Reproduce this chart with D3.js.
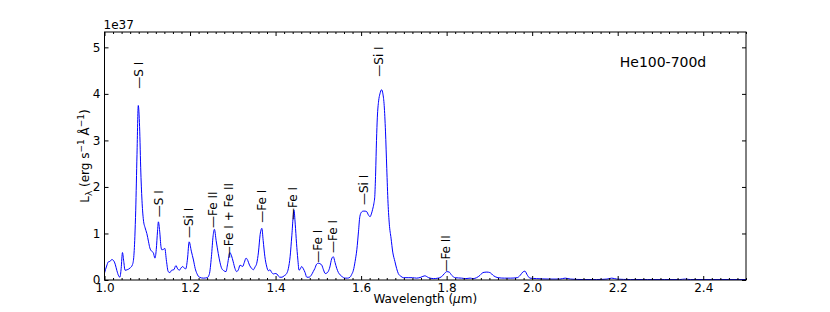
<!DOCTYPE html>
<html>
<head>
<meta charset="utf-8">
<script src="https://cdn.jsdelivr.net/npm/d3@7"></script>
<style>
  body { margin: 0; background: #fff; }
  svg { font-family: "DejaVu Sans", sans-serif; }
  .tick text { font-size: 12px; fill: #000; }
  .tick line { stroke: #000; }
</style>
</head>
<body>
<svg id="chart" width="830" height="312"></svg>
<script>
// spectrum (wavelength in micron, L in units of 1e37)
const wavelength = [
  1.000, 1.005, 1.009, 1.013, 1.017, 1.021, 1.025, 1.029, 1.033, 1.036, 1.039, 1.042, 1.045, 1.048, 1.053, 1.060,
  1.065, 1.068, 1.071, 1.073, 1.076, 1.079, 1.082, 1.085, 1.088, 1.091, 1.095, 1.099, 1.103, 1.106, 1.110, 1.114,
  1.118, 1.121, 1.124, 1.126, 1.129, 1.132, 1.134, 1.138, 1.141, 1.145, 1.149, 1.153, 1.157, 1.162, 1.167, 1.171,
  1.175, 1.179, 1.183, 1.187, 1.190, 1.194, 1.198, 1.203, 1.208, 1.212, 1.216, 1.222, 1.231, 1.240, 1.245, 1.250,
  1.254, 1.257, 1.261, 1.266, 1.270, 1.274, 1.279, 1.284, 1.288, 1.293, 1.297, 1.301, 1.305, 1.309, 1.313, 1.317,
  1.323, 1.327, 1.331, 1.335, 1.339, 1.344, 1.348, 1.352, 1.356, 1.360, 1.364, 1.368, 1.371, 1.375, 1.379, 1.383,
  1.387, 1.391, 1.395, 1.399, 1.403, 1.407, 1.410, 1.415, 1.420, 1.426, 1.430, 1.434, 1.438, 1.443, 1.446, 1.449,
  1.452, 1.455, 1.458, 1.461, 1.465, 1.469, 1.473, 1.478, 1.484, 1.488, 1.492, 1.496, 1.500, 1.504, 1.508, 1.512,
  1.516, 1.520, 1.523, 1.527, 1.531, 1.535, 1.539, 1.543, 1.547, 1.551, 1.556, 1.562, 1.568, 1.574, 1.578, 1.582,
  1.586, 1.590, 1.594, 1.597, 1.601, 1.605, 1.609, 1.613, 1.617, 1.621, 1.624, 1.627, 1.630, 1.632, 1.634, 1.636,
  1.638, 1.641, 1.644, 1.648, 1.651, 1.654, 1.657, 1.660, 1.663, 1.666, 1.670, 1.674, 1.679, 1.683, 1.687, 1.693,
  1.699, 1.710, 1.720, 1.730, 1.740, 1.749, 1.758, 1.769, 1.780, 1.788, 1.795, 1.800, 1.806, 1.812, 1.820, 1.835,
  1.845, 1.855, 1.862, 1.870, 1.878, 1.885, 1.894, 1.901, 1.910, 1.920, 1.935, 1.950, 1.965, 1.972, 1.978, 1.983,
  1.989, 1.995, 2.010, 2.040, 2.065, 2.077, 2.090, 2.120, 2.150, 2.175, 2.186, 2.198, 2.230, 2.270, 2.310, 2.345,
  2.357, 2.370, 2.420, 2.460, 2.500
]
const luminosity = [
  0.15, 0.30, 0.39, 0.40, 0.44, 0.42, 0.34, 0.20, 0.09, 0.06, 0.25, 0.59, 0.40, 0.21, 0.22, 0.26,
  0.32, 0.45, 0.93, 1.50, 2.70, 3.75, 3.30, 2.30, 1.65, 1.29, 1.12, 1.00, 0.82, 0.69, 0.62, 0.59,
  0.47, 0.65, 1.05, 1.25, 1.05, 0.72, 0.65, 0.66, 0.68, 0.40, 0.18, 0.16, 0.21, 0.22, 0.31, 0.24,
  0.21, 0.26, 0.29, 0.25, 0.24, 0.45, 0.82, 0.62, 0.43, 0.25, 0.14, 0.06, 0.04, 0.05, 0.12, 0.50,
  0.95, 1.09, 0.85, 0.57, 0.38, 0.25, 0.20, 0.18, 0.35, 0.59, 0.52, 0.39, 0.25, 0.18, 0.22, 0.32,
  0.29, 0.38, 0.47, 0.42, 0.32, 0.25, 0.22, 0.28, 0.36, 0.60, 0.98, 1.11, 0.85, 0.50, 0.30, 0.20,
  0.22, 0.16, 0.13, 0.14, 0.13, 0.08, 0.06, 0.06, 0.09, 0.14, 0.25, 0.50, 0.95, 1.50, 1.20, 0.79,
  0.45, 0.21, 0.24, 0.29, 0.24, 0.16, 0.06, 0.06, 0.11, 0.18, 0.25, 0.34, 0.36, 0.35, 0.32, 0.22,
  0.14, 0.15, 0.18, 0.28, 0.45, 0.50, 0.38, 0.25, 0.16, 0.11, 0.07, 0.04, 0.04, 0.06, 0.12, 0.21,
  0.40, 0.65, 1.05, 1.36, 1.46, 1.48, 1.48, 1.47, 1.40, 1.36, 1.42, 1.52, 1.65, 1.80, 2.30, 3.00,
  3.50, 3.85, 4.00, 4.09, 4.00, 3.75, 3.20, 2.40, 1.65, 1.20, 0.90, 0.60, 0.40, 0.25, 0.14, 0.08,
  0.05, 0.05, 0.05, 0.04, 0.06, 0.09, 0.05, 0.03, 0.04, 0.07, 0.14, 0.18, 0.17, 0.10, 0.05, 0.04,
  0.03, 0.04, 0.03, 0.05, 0.10, 0.16, 0.17, 0.16, 0.09, 0.05, 0.04, 0.04, 0.05, 0.10, 0.17, 0.19,
  0.10, 0.04, 0.03, 0.02, 0.02, 0.04, 0.02, 0.01, 0.01, 0.02, 0.04, 0.02, 0.01, 0.01, 0.01, 0.01,
  0.02, 0.01, 0.01, 0.01, 0.01
]

// line identifications: name, wavelength, height of the marker foot
const lineNames = ['S I', 'S I', 'Si I', 'Fe II', 'Fe I + Fe II', 'Fe I', 'Fe I', 'Fe I', 'Fe I', 'Si I', 'Si I', 'Fe II']
const lineWavelengths = [1.081, 1.128, 1.199, 1.256, 1.292, 1.370, 1.442, 1.500, 1.535, 1.608, 1.644, 1.800]
const lineHeights = [4.11, 1.35, 0.90, 1.12, 0.47, 1.23, 1.29, 0.37, 0.58, 1.61, 4.37, 0.18]

const xMajorTicks = [1.0, 1.2, 1.4, 1.6, 1.8, 2.0, 2.2, 2.4]
const yMajorTicks = [0, 1, 2, 3, 4, 5]

const config = {
  left: 104.5, right: 746, top: 32, bottom: 280,
  xDomain: [1.0, 2.5], yDomain: [0, 5.33]
}

const svg = d3.select('#chart')

const xScale = d3.scaleLinear().domain(config.xDomain).range([config.left, config.right])
const yScale = d3.scaleLinear().domain(config.yDomain).range([config.bottom, config.top])

// minor ticks every 0.02 on the wavelength axis
const xMinorTicks = d3.range(50, 126).map(d => d / 50)
  .filter(d => !xMajorTicks.some(m => Math.abs(m - d) < 1e-6))

const fmtX = d3.format('.1f')

// spectrum
const spectrum = wavelength.map((w, i) => ({w: w, l: luminosity[i]}))
const line = d3.line()
  .x(d => xScale(d.w))
  .y(d => yScale(d.l))
  .curve(d3.curveMonotoneX)

svg.append('defs').append('clipPath').attr('id', 'clip')
  .append('rect')
  .attr('x', config.left).attr('y', config.top)
  .attr('width', config.right - config.left)
  .attr('height', config.bottom - config.top)

svg.append('path')
  .datum(spectrum)
  .attr('clip-path', 'url(#clip)')
  .attr('fill', 'none')
  .attr('stroke', '#0000ff')
  .attr('stroke-width', 1)
  .attr('d', line)

// axes (ticks point inward, mirrored on top and right)
const bottomG = svg.append('g')
  .attr('transform', `translate(0, ${config.bottom})`)
  .call(d3.axisBottom(xScale).tickValues(xMajorTicks).tickFormat(fmtX)
    .tickSizeInner(-4).tickSizeOuter(0).tickPadding(3))
svg.append('g')
  .attr('transform', `translate(0, ${config.bottom})`)
  .call(d3.axisBottom(xScale).tickValues(xMinorTicks).tickFormat('')
    .tickSizeInner(-2).tickSizeOuter(0))
svg.append('g')
  .attr('transform', `translate(0, ${config.top})`)
  .call(d3.axisTop(xScale).tickValues(xMajorTicks).tickFormat('')
    .tickSizeInner(-4).tickSizeOuter(0))
svg.append('g')
  .attr('transform', `translate(0, ${config.top})`)
  .call(d3.axisTop(xScale).tickValues(xMinorTicks).tickFormat('')
    .tickSizeInner(-2).tickSizeOuter(0))
svg.append('g')
  .attr('transform', `translate(${config.left}, 0)`)
  .call(d3.axisLeft(yScale).tickValues(yMajorTicks).tickFormat(d3.format('d'))
    .tickSizeInner(-4).tickSizeOuter(0).tickPadding(4))
svg.append('g')
  .attr('transform', `translate(${config.right}, 0)`)
  .call(d3.axisRight(yScale).tickValues(yMajorTicks).tickFormat('')
    .tickSizeInner(-4).tickSizeOuter(0))

svg.selectAll('.domain').remove()
svg.selectAll('.tick text').style('font-family', '"DejaVu Sans", sans-serif')

svg.append('rect')
  .attr('x', config.left).attr('y', config.top)
  .attr('width', config.right - config.left)
  .attr('height', config.bottom - config.top)
  .attr('fill', 'none')
  .attr('stroke', '#000')
  .attr('stroke-width', 1)

// offset text above the y axis
svg.append('text')
  .attr('x', config.left - 1).attr('y', 29)
  .style('font-size', '12px')
  .text('1e37')

// line identification labels
lineNames.forEach((name, i) => {
  svg.append('text')
    .attr('transform', `translate(${xScale(lineWavelengths[i]) + 3.5}, ${yScale(lineHeights[i])}) rotate(-90)`)
    .style('font-size', '12px')
    .text('\u2014' + name)
})

// model name
svg.append('text')
  .attr('x', 663).attr('y', 67)
  .attr('text-anchor', 'middle')
  .style('font-size', '14px')
  .text('He100-700d')

// x axis title
const xTitle = svg.append('text')
  .attr('x', (config.left + config.right) / 2).attr('y', 303)
  .attr('text-anchor', 'middle')
  .style('font-size', '12px')
xTitle.append('tspan').text('Wavelength (')
xTitle.append('tspan').style('font-style', 'italic').text('\u03bc')
xTitle.append('tspan').text('m)')

// y axis title
const yTitle = svg.append('text')
  .attr('transform', `translate(89, ${(config.top + config.bottom) / 2}) rotate(-90)`)
  .attr('text-anchor', 'middle')
  .style('font-size', '12px')
yTitle.append('tspan').text('L')
yTitle.append('tspan').attr('dy', 3).style('font-size', '9px').text('\u03bb')
yTitle.append('tspan').attr('dy', -3).text(' (erg s')
yTitle.append('tspan').attr('dy', -5).style('font-size', '9px').text('\u22121')
yTitle.append('tspan').attr('dy', 5).text(' \u00c5')
yTitle.append('tspan').attr('dy', -5).style('font-size', '9px').text('\u22121')
yTitle.append('tspan').attr('dy', 5).text(')')
</script>
</body>
</html>
